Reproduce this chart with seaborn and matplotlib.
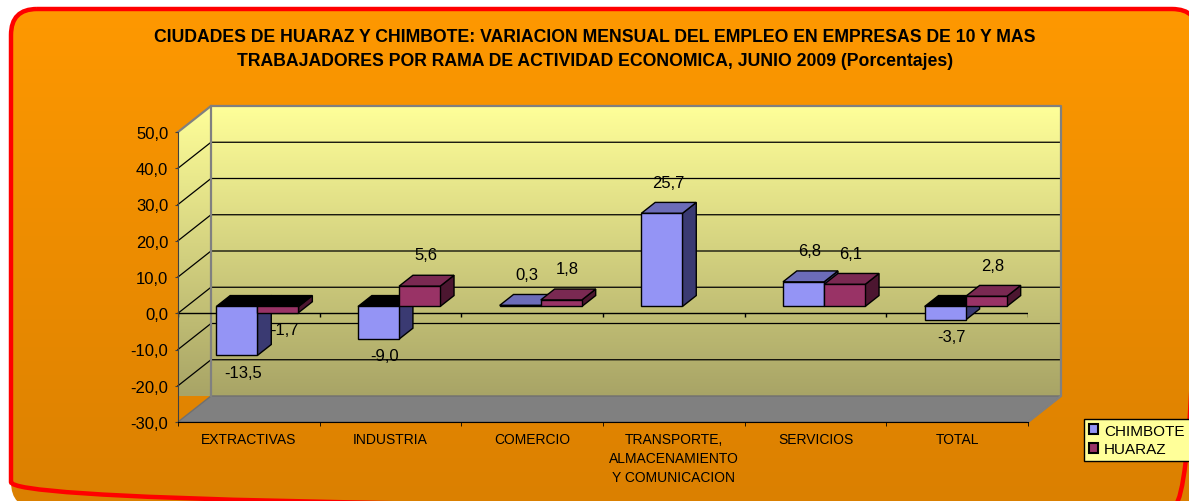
import numpy as np
import pandas as pd
import matplotlib
matplotlib.use("Agg")
import matplotlib.pyplot as plt
import seaborn as sns
from matplotlib.patches import Polygon, FancyBboxPatch, Patch
from matplotlib.transforms import ScaledTranslation

# ---------------------------------------------------------------
# Datos
# ---------------------------------------------------------------
ramas = ["EXTRACTIVAS", "INDUSTRIA", "COMERCIO",
         "TRANSPORTE,\nALMACENAMIENTO\nY COMUNICACION", "SERVICIOS", "TOTAL"]
ciudades = ["CHIMBOTE", "HUARAZ"]
chimbote = [-13.5, -9.0, 0.3, 25.7, 6.8, -3.7]
huaraz = [-1.7, 5.6, 1.8, None, 6.1, 2.8]     # sin dato en transporte
y_ticks = [-30, -20, -10, 0, 10, 20, 30, 40, 50]

titulo_1 = "CIUDADES DE HUARAZ Y CHIMBOTE: VARIACION MENSUAL DEL EMPLEO EN EMPRESAS DE 10 Y MAS"
titulo_2 = "TRABAJADORES POR RAMA DE ACTIVIDAD ECONOMICA, JUNIO 2009 (Porcentajes)"

filas = [(r, "CHIMBOTE", v) for r, v in zip(ramas, chimbote)]
filas += [(r, "HUARAZ", v) for r, v in zip(ramas, huaraz) if v is not None]
df = pd.DataFrame(filas, columns=["rama", "ciudad", "valor"])

# estilos
color_frente = ["#9494F5", "#993366"]
color_lado = ["#3A3A72", "#4C1630"]
color_tapa = ["#6C6CB8", "#7A2952"]

plt.rcParams["font.family"] = ["Liberation Sans", "DejaVu Sans"]

W, H = 1189, 502
fig = plt.figure(figsize=(W / 100, H / 100), dpi=100)

# capa de fondo en pixeles
bg = fig.add_axes([0, 0, 1, 1])
bg.axis("off")

# plano frontal del grafico 3D
X0, X1, YT, YB = 178, 1028, 133, 423
ax = fig.add_axes([X0 / W, 1 - YB / H, (X1 - X0) / W, (YB - YT) / H], zorder=1)
ax.set_xlim(-0.5, 5.5)
ax.set_ylim(-30, 50)
ax.patch.set_visible(False)

DX, DY = 33, 26        # profundidad de las paredes (px)
D0, D1 = 0.26, 0.68    # profundidad de las barras


def px(x, y, d=0.0):
    X, Y = ax.transData.transform((x, y))
    return (X + d * DX, H - Y - d * DY)


# fondo naranja con borde rojo redondeado
caja = FancyBboxPatch((11, 10), 1187, 499, boxstyle="round,pad=0,rounding_size=26",
                      fc="none", ec="none")
bg.add_patch(caja)
t = np.linspace(0, 1, 256)[:, None, None]
naranja = (np.array([255, 153, 0]) * (1 - t) + np.array([219, 128, 0]) * t) / 255
img = bg.imshow(naranja, extent=(0, W, H, 0), aspect="auto", zorder=0)
img.set_clip_path(caja)
bg.add_patch(FancyBboxPatch((11, 10), 1187, 499, boxstyle="round,pad=0,rounding_size=26",
                            fc="none", ec="#FF0000", lw=3.2, zorder=1))

# paredes (lateral + fondo) con degradado amarillo
pared = Polygon([px(-0.5, 50, 0), px(-0.5, 50, 1), px(5.5, 50, 1), px(5.5, -30, 1),
                 px(-0.5, -30, 1), px(-0.5, -30, 0)], closed=True, fc="none", ec="none")
bg.add_patch(pared)
ytop = px(-0.5, 50, 1)[1]
yfondo = px(-0.5, -30, 1)[1]
amarillo = (np.array([255, 255, 153]) * (1 - t) + np.array([168, 164, 102]) * t) / 255
img2 = bg.imshow(amarillo, extent=(X0, X1 + DX, yfondo, ytop), aspect="auto", zorder=2)
img2.set_clip_path(pared)

# piso gris
bg.add_patch(Polygon([px(-0.5, -30, 0), px(5.5, -30, 0), px(5.5, -30, 1), px(-0.5, -30, 1)],
                     closed=True, fc="#808080", ec="#707070", lw=1, zorder=3))

# lineas de division
for v in y_ticks[1:-1]:
    a, b, c = px(-0.5, v, 0), px(-0.5, v, 1), px(5.5, v, 1)
    bg.plot([a[0], b[0], c[0]], [a[1], b[1], c[1]], color="black", lw=0.9, zorder=4)

# borde gris de la pared
borde = [px(-0.5, 50, 0), px(-0.5, 50, 1), px(5.5, 50, 1), px(5.5, -30, 1), px(5.5, -30, 0)]
bg.plot([p[0] for p in borde], [p[1] for p in borde], color="#808080", lw=1.6, zorder=4)
b1, b2 = px(-0.5, -30, 1), px(-0.5, 50, 1)
bg.plot([b1[0], b2[0]], [b1[1], b2[1]], color="#808080", lw=1.6, zorder=4)

bg.set_xlim(0, W)
bg.set_ylim(H, 0)

# eje del cero (plano frontal)
ax.plot([-0.5, 5.5], [0, 0], color="black", lw=1, zorder=2)
ax.vlines(np.arange(-0.5, 6, 1), 0, -1.1, color="black", lw=1, zorder=2)

# barras
sns.barplot(data=df, x="rama", y="valor", hue="ciudad", order=ramas, hue_order=ciudades,
            palette=color_frente, saturation=1, width=0.58, edgecolor="black",
            linewidth=1, legend=False, ax=ax)

desplaza = ScaledTranslation(D0 * DX / 100, D0 * DY / 100, fig.dpi_scale_trans)
for k, cont in enumerate(ax.containers):
    for bar in cont:
        v = bar.get_height()
        x0 = bar.get_x()
        x1 = x0 + bar.get_width()
        lo, hi = min(0, v), max(0, v)
        bar.set_transform(ax.transData + desplaza)
        bar.set_zorder(4 + 2 * k)
        lado = [px(x1, lo, D0), px(x1, hi, D0), px(x1, hi, D1), px(x1, lo, D1)]
        tapa = [px(x0, hi, D0), px(x1, hi, D0), px(x1, hi, D1), px(x0, hi, D1)]
        ax.add_patch(Polygon(lado, closed=True, transform=bg.transData, fc=color_lado[k],
                             ec="black", lw=1, zorder=3 + 2 * k, clip_on=False))
        ax.add_patch(Polygon(tapa, closed=True, transform=bg.transData,
                             fc="black" if v < 0 else color_tapa[k],
                             ec="black", lw=1, zorder=3 + 2 * k, clip_on=False))
        etiqueta = f"{v:.1f}".replace(".", ",")
        ax.annotate(etiqueta, (x0 + bar.get_width() / 2, v),
                    xytext=(15, 38 if v >= 0 else -10), textcoords="offset pixels",
                    ha="center", va="center", fontsize=12, zorder=10,
                    annotation_clip=False)

# ejes
for lado_eje in ["top", "right"]:
    ax.spines[lado_eje].set_visible(False)
ax.spines["left"].set_color("#404040")
ax.spines["bottom"].set_color("black")
ax.spines["left"].set_zorder(2)
ax.set_yticks(y_ticks)
ax.set_yticklabels([f"{v:.1f}".replace(".", ",") for v in y_ticks], fontsize=12)
ax.tick_params(axis="y", length=2.5, pad=4.5, color="#404040")
ax.set_xticks(range(len(ramas)))
ax.set_xticklabels(ramas, fontsize=10, linespacing=1.45)
ax.set_xticks(np.arange(-0.5, 6, 1), minor=True)
ax.tick_params(axis="x", which="major", length=0, pad=7)
ax.tick_params(axis="x", which="minor", length=3, color="black")
ax.set_xlabel("")
ax.set_ylabel("")

# titulo
fig.text(595 / W, 1 - 37 / H, titulo_1, ha="center", va="center", fontsize=12.7, weight="bold")
fig.text(595 / W, 1 - 62 / H, titulo_2, ha="center", va="center", fontsize=12.7, weight="bold")

# leyenda (se corta en el borde derecho, como en el original)
manijas = [Patch(fc=c, ec="black", lw=1.5) for c in color_frente]
ley = fig.legend(manijas, ciudades, loc="upper left",
                 bbox_to_anchor=(1084 / W, 1 - 466 / H, 125 / W, 46 / H), mode="expand",
                 frameon=True, fancybox=False, edgecolor="black", facecolor="#FFFF99",
                 framealpha=1, fontsize=11, handlelength=0.6, handleheight=0.6,
                 handletextpad=0.4, borderpad=0.3, labelspacing=0.3, borderaxespad=0)
ley.get_frame().set_linewidth(1)

fig.savefig("out.png", dpi=100)
